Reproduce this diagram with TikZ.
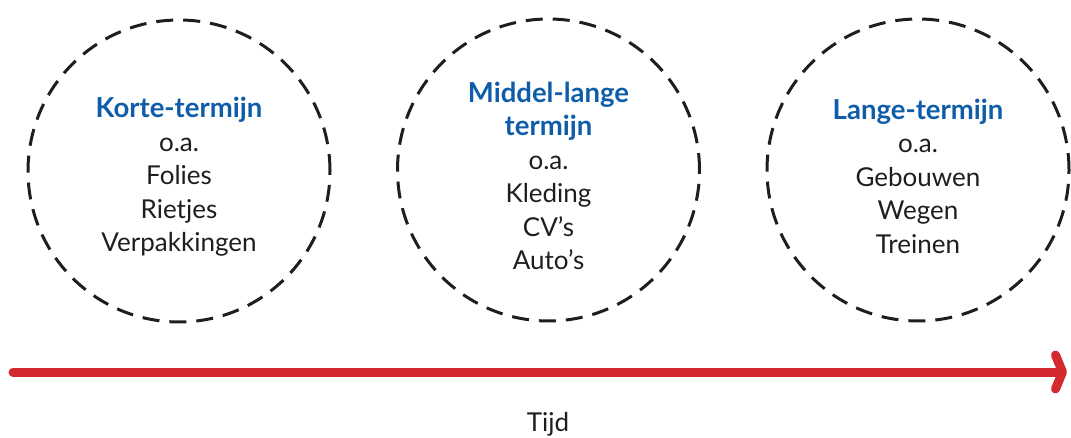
\documentclass[tikz,border=0pt]{standalone}
\usepackage{fontspec}
\setmainfont{Lato}
\usetikzlibrary{arrows.meta}
\definecolor{rblue}{HTML}{0F5DA8}
\definecolor{rred}{HTML}{D42A2F}
\definecolor{rtext}{HTML}{1E1E1E}
\newcommand{\hd}[1]{{\fontsize{27.5}{33.5}\selectfont\bfseries\color{rblue}#1}}
\tikzset{
  ring/.style={circle, draw=rtext, line width=3pt, dash pattern=on 17pt off 10pt, minimum size=302pt, inner sep=0pt},
  itemtext/.style={align=center, text=rtext, font=\fontsize{26}{33.5}\selectfont},
  timeline/.style={draw=rred, line width=9pt, line cap=round, -{Straight Barb[round, length=7pt, width=34pt]}}
}
\begin{document}
\begin{tikzpicture}[x=1pt, y=-1pt]
\useasboundingbox (0,0) rectangle (1071,438);
\node[ring] (c1) at (179,171) {};
\node[ring] (c2) at (548.5,170) {};
\node[ring] (c3) at (918,170) {};
\node[itemtext] (t1) at (179,177) {\hd{Korte-termijn}\\o.a.\\Folies\\Rietjes\\Verpakkingen};
\node[itemtext] (t2) at (548.5,176) {\hd{Middel-lange}\\\hd{termijn}\\o.a.\\Kleding\\CV’s\\Auto’s};
\node[itemtext] (t3) at (918,176) {\hd{Lange-termijn}\\o.a.\\Gebouwen\\Wegen\\Treinen};
\coordinate (s) at (13,372);
\coordinate (e) at (1067,372);
\draw[timeline] (s) -- (e);
\node[itemtext] (tijd) at (548,424) {Tijd};
\end{tikzpicture}
\end{document}
